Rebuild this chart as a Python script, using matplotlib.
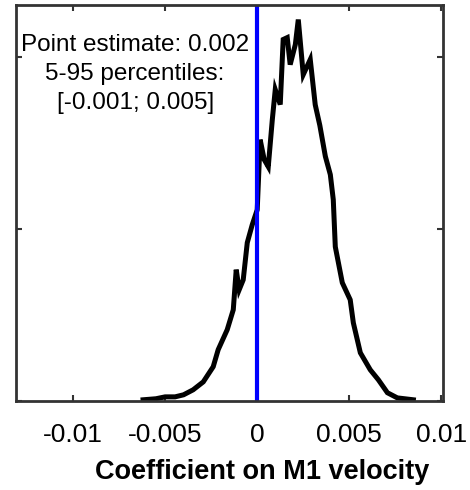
import matplotlib
matplotlib.use('Agg')
import matplotlib.pyplot as plt

# posterior density of the coefficient
coef = [-0.0062, -0.0055, -0.0050, -0.00446, -0.0040, -0.00348, -0.00293, -0.00239,
        -0.00212, -0.00163, -0.00130, -0.00114, -0.00098, -0.00076, -0.00054, -0.00027,
        0.0, 0.00016, 0.00038, 0.00060, 0.00082, 0.00098, 0.00125, 0.00141,
        0.00163, 0.00179, 0.00207, 0.00223, 0.00250, 0.00288, 0.00315, 0.00340,
        0.00370, 0.00397, 0.00413, 0.00424, 0.00462, 0.00505, 0.00522, 0.00560,
        0.00614, 0.00658, 0.00707, 0.00761, 0.00848]
density = [0.006, 0.012, 0.023, 0.023, 0.035, 0.064, 0.110, 0.198,
           0.297, 0.413, 0.529, 0.762, 0.645, 0.703, 0.919, 1.023,
           1.110, 1.517, 1.401, 1.360, 1.634, 1.808, 1.721, 2.099,
           2.110, 1.953, 2.070, 2.215, 1.895, 1.983, 1.720, 1.600,
           1.420, 1.314, 1.169, 0.895, 0.686, 0.587, 0.453, 0.279,
           0.180, 0.122, 0.047, 0.017, 0.006]

x_ticks = [-0.01, -0.005, 0, 0.005, 0.01]
x_tick_labels = ['-0.01', '-0.005', '0', '0.005', '0.01']
y_ticks = [0, 1, 2]

plt.rcParams['font.family'] = ['Liberation Sans', 'DejaVu Sans']

fig = plt.figure(figsize=(4.7, 4.9), dpi=100)
ax = fig.add_axes([0.034, 0.182, 0.909, 0.808])

ax.plot(coef, density, color='black', linewidth=3.6, solid_joinstyle='miter')
ax.axvline(0, color='#0000ff', linewidth=3.0)

ax.set_xlim(-0.0131, 0.0101)
ax.set_ylim(0, 2.30)
ax.set_xticks(x_ticks)
ax.set_xticklabels(x_tick_labels, fontsize=19)
ax.set_yticks(y_ticks)
ax.set_yticklabels([])
ax.tick_params(direction='in', length=4, width=1.5, top=True, right=True,
               pad=16, color='#333333')
for s in ax.spines.values():
    s.set_linewidth(2)
    s.set_color('#333333')

ax.set_xlabel('Coefficient on M1 velocity', fontsize=19.5, fontweight='bold')
ax.xaxis.set_label_coords(0.576, -0.148)

ax.text(0.279, 0.825, 'Point estimate: 0.002\n5-95 percentiles:\n[-0.001; 0.005]',
        transform=ax.transAxes, ha='center', va='center', multialignment='center',
        fontsize=17.5, linespacing=1.42)

fig.savefig('out.png', dpi=100)
